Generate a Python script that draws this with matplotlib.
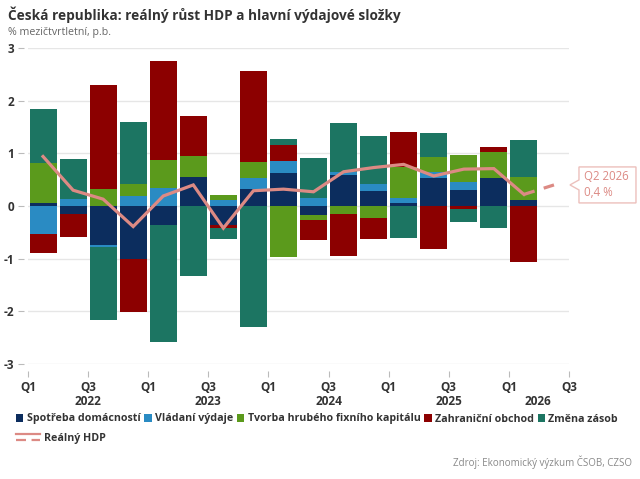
import numpy as np
import matplotlib
matplotlib.use("Agg")
import matplotlib.pyplot as plt
from matplotlib.patches import Patch, Polygon
from matplotlib.lines import Line2D
from matplotlib.legend_handler import HandlerBase

plt.rcParams['font.family'] = ['Open Sans', 'DejaVu Sans']

quarters = ["Q1 2022", "Q2 2022", "Q3 2022", "Q4 2022",
            "Q1 2023", "Q2 2023", "Q3 2023", "Q4 2023",
            "Q1 2024", "Q2 2024", "Q3 2024", "Q4 2024",
            "Q1 2025", "Q2 2025", "Q3 2025", "Q4 2025",
            "Q1 2026"]
hdp_quarters = quarters + ["Q2 2026"]

spotreba = [0.05, -0.15, -0.74, -1.01, -0.36, 0.56, -0.37, 0.33, 0.63, -0.17,
            0.59, 0.29, 0.05, 0.54, 0.31, 0.54, 0.11]
vladni = [-0.53, 0.13, -0.04, 0.19, 0.34, 0.00, 0.12, 0.20, 0.22, 0.15,
          0.06, 0.13, 0.11, 0.10, 0.15, 0.00, 0.00]
tvorba = [0.77, 0.00, 0.33, 0.23, 0.53, 0.39, 0.08, 0.30, -0.96, -0.10,
          -0.15, -0.22, 0.59, 0.29, 0.51, 0.48, 0.45]
zahranicni = [-0.37, -0.44, 1.96, -1.00, 1.89, 0.76, -0.05, 1.74, 0.31, -0.37,
              -0.79, -0.41, 0.65, -0.82, -0.06, 0.10, -1.06]
zasoby = [1.02, 0.76, -1.38, 1.18, -2.23, -1.32, -0.20, -2.29, 0.11, 0.77,
          0.93, 0.90, -0.61, 0.45, -0.24, -0.42, 0.70]
hdp = [0.94, 0.30, 0.13, -0.39, 0.19, 0.40, -0.42, 0.29, 0.32, 0.27,
       0.65, 0.73, 0.79, 0.57, 0.70, 0.71, 0.22, 0.40]

series_names = ["Spotřeba domácností", "Vládaní výdaje", "Tvorba hrubého fixního kapitálu",
                "Zahraniční obchod", "Změna zásob"]
series_colors = ["#0c2d5e", "#2a8bc3", "#5b9a1c", "#8c0000", "#1c7562"]
series_values = [spotreba, vladni, tvorba, zahranicni, zasoby]

tick_labels = ["Q1", "Q3", "Q1", "Q3", "Q1", "Q3", "Q1", "Q3", "Q1", "Q3"]
year_labels = ["2022", "2023", "2024", "2025", "2026"]

fig = plt.figure(figsize=(6.4, 4.79), dpi=100)
ax = fig.add_axes([28/640, 1-364/479, (569-28)/640, (364-48)/479])

x = np.arange(len(quarters))
pos_base = np.zeros(len(x))
neg_base = np.zeros(len(x))
for name, col, vals in zip(series_names, series_colors, series_values):
    v = np.array(vals)
    bottoms = np.where(v >= 0, pos_base, neg_base)
    ax.bar(x, v, bottom=bottoms, width=0.9, color=col, linewidth=0, zorder=2)
    pos_base = pos_base + np.where(v >= 0, v, 0)
    neg_base = neg_base + np.where(v < 0, v, 0)

line_col = "#dc8a84"
xh = np.arange(len(hdp_quarters))
ax.plot(xh[:-1], hdp[:-1], color=line_col, lw=2.3, zorder=3, solid_joinstyle='miter')
ax.plot(xh[-2:], hdp[-2:], color=line_col, lw=2.3, zorder=3, dashes=(3.5, 3))

ax.set_xlim(-0.5, 17.5)
ax.set_ylim(-3, 3)
ax.set_yticks([-3, -2, -1, 0, 1, 2, 3])
ax.set_yticklabels(["-3", "-2", "-1", "0", "1", "2", "3"])
ax.grid(axis='y', color='#e6e6e6', lw=1, zorder=0)
ax.set_axisbelow(True)
for s in ax.spines.values():
    s.set_visible(False)
ax.spines['bottom'].set_position(('outward', 5))
ax.spines['left'].set_position(('outward', 3))
ax.tick_params(axis='y', length=4, color='#bbbbbb', width=0.8, labelsize=8.5,
               labelcolor='#333333', pad=3)
xt = np.arange(-0.5, 18, 2)
ax.set_xticks(xt)
ax.set_xticklabels(tick_labels)
ax.tick_params(axis='x', length=4, color='#bbbbbb', width=0.8, labelsize=8.5,
               labelcolor='#333333', pad=3)
for lab in ax.get_xticklabels() + ax.get_yticklabels():
    lab.set_fontweight('bold')

year_pos = [1.5, 5.5, 9.5, 13.5, 16.45]
for xp, yl in zip(year_pos, year_labels):
    ax.text(xp, -3.72, yl, ha='center', va='center', fontsize=8.5, fontweight='bold',
            color='#333333', clip_on=False)

# Title and subtitle
fig.text(8/640, 1-15/479, "Česká republika: reálný růst HDP a hlavní výdajové složky",
         fontsize=9.8, fontweight='bold', color='#333333', ha='left', va='center')
fig.text(8/640, 1-33/479, "% mezičtvrtletní, p.b.", fontsize=7.7, color='#666666',
         ha='left', va='center')


class DoubleLineHandler(HandlerBase):
    def create_artists(self, legend, orig_handle, xdescent, ydescent, width, height,
                       fontsize, trans):
        yc = height / 2 - ydescent
        l1 = Line2D([-xdescent, -xdescent + width], [yc + 2.2, yc + 2.2],
                    color=line_col, lw=1.6, transform=trans)
        l2 = Line2D([-xdescent, -xdescent + width], [yc - 2.2, yc - 2.2],
                    color=line_col, lw=1.6, dashes=(4.5, 2.5), transform=trans)
        return [l1, l2]


# Legends
handles = [Patch(facecolor=c, edgecolor='none') for c in series_colors]
leg1 = fig.legend(handles, series_names, loc='center left', bbox_to_anchor=(16/640, 1-419/479),
                  ncol=5, frameon=False, fontsize=7.7, handlelength=0.7, handleheight=0.7,
                  handletextpad=0.3, columnspacing=0.35, borderpad=0, borderaxespad=0)
for t in leg1.get_texts():
    t.set_fontweight('bold'); t.set_color('#333333')
hdp_handle = Line2D([0], [0], color=line_col)
leg2 = fig.legend([hdp_handle], ["Reálný HDP"],
                  loc='center left', bbox_to_anchor=(16/640, 1-438/479), frameon=False,
                  fontsize=7.7, handlelength=2.2, handletextpad=0.4, borderpad=0, borderaxespad=0,
                  handler_map={Line2D: DoubleLineHandler()})
for t in leg2.get_texts():
    t.set_fontweight('bold'); t.set_color('#333333')

fig.text(632/640, 1-462/479, "Zdroj: Ekonomický výzkum ČSOB, CZSO", fontsize=7,
         color='#888888', ha='right', va='center')

# Callout for last point
fig.canvas.draw()
px, py = ax.transData.transform((xh[-1], hdp[-1]))
H = fig.bbox.height
W = fig.bbox.width
tip = (px + 16, py)
left = px + 25
right = px + 82
top = py + 18
bot = py - 18
pts = [(left, top), (right, top), (right, bot), (left, bot), (left, py - 5), tip, (left, py + 5)]
poly = Polygon([(a / W, b / H) for a, b in pts], closed=True, transform=fig.transFigure,
               facecolor='white', edgecolor='#ecc0bc', lw=1, zorder=10)
fig.patches.append(poly)
fig.text((left + 5) / W, (py + 8) / H, "Q2 2026", fontsize=8.3, color=line_col,
         ha='left', va='center', zorder=11)
fig.text((left + 5) / W, (py - 8) / H, "0,4 %", fontsize=8.3, color=line_col,
         ha='left', va='center', zorder=11)

fig.savefig("out.png", dpi=100)
